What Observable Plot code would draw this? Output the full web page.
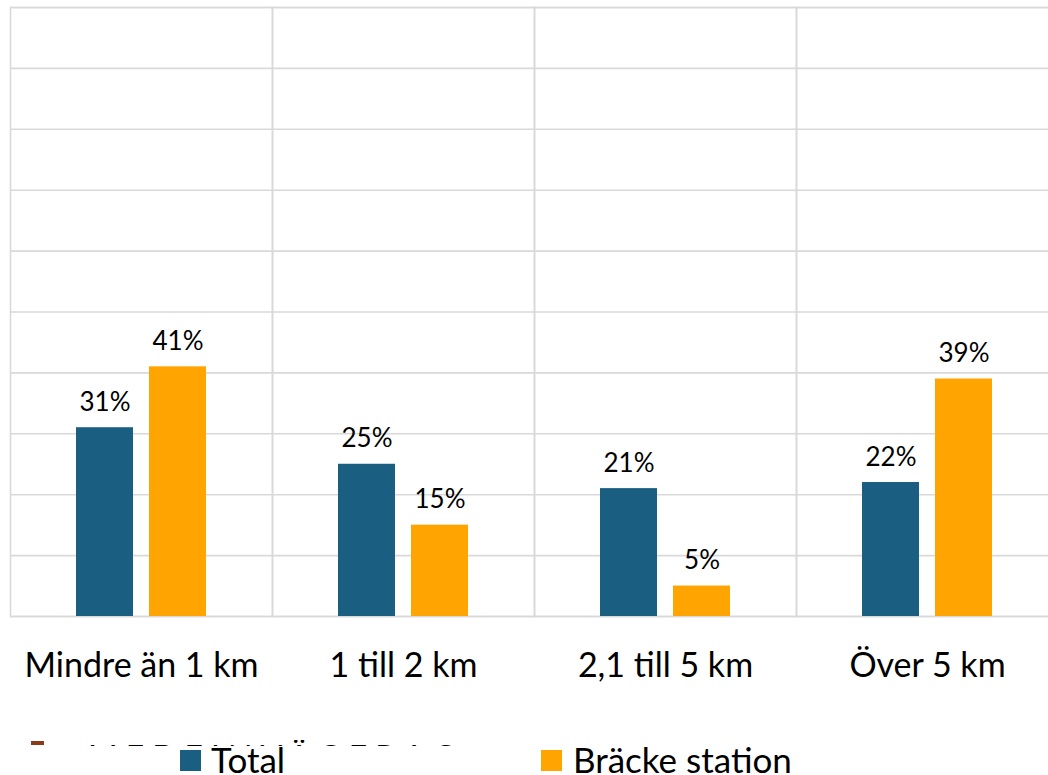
<!DOCTYPE html>
<html><head><meta charset="utf-8">
<script src="https://cdn.jsdelivr.net/npm/d3@7"></script>
<script src="https://cdn.jsdelivr.net/npm/@observablehq/plot@0.6"></script>
<style>
html,body{margin:0;padding:0;background:#fff;overflow:hidden;width:1048px;height:775px;}
#wrap{position:relative;width:1048px;height:775px;overflow:hidden;font-family:"Source Sans Pro",Lato,sans-serif;}
#wrap svg{max-width:none !important;display:block;}
#legend{position:absolute;left:0;top:738px;width:1048px;height:37px;}
.sw{position:absolute;width:21px;height:21px;top:12px;}
.lt{position:absolute;top:1px;font-size:35px;line-height:40px;color:#000;white-space:nowrap;}
#ghost{position:absolute;left:88px;top:740px;height:6px;width:430px;overflow:hidden;}
#ghost span{display:block;font-size:32px;line-height:32px;letter-spacing:8px;color:#000;margin-top:1px;}
#mark{position:absolute;left:31px;top:741px;width:13px;height:4px;background:#8b3a1a;}
</style></head>
<body><div id="wrap"></div>
<script>
const categories = ["Mindre än 1 km", "1 till 2 km", "2,1 till 5 km", "Över 5 km"];
const series = ["Total", "Bräcke station"];
const totalValues = [31, 25, 21, 22];
const brackeValues = [41, 15, 5, 39];
const yTicks = [0,10,20,30,40,50,60,70,80,90,100];
const colors = ["#1a5f82", "#ffa400"];

const data = [];
categories.forEach((c, i) => {
  data.push({cat: c, s: series[0], v: totalValues[i]});
  data.push({cat: c, s: series[1], v: brackeValues[i]});
});

const chart = Plot.plot({
  width: 1068,
  height: 716,
  marginLeft: 9,
  marginRight: 9,
  marginTop: 7,
  marginBottom: 100,
  style: {fontFamily: '"Source Sans Pro", Lato, sans-serif', background: "#fff", overflow: "visible"},
  fx: {domain: categories, padding: 0, label: null},
  x: {domain: series, paddingInner: 0.216, paddingOuter: 0.89, axis: null},
  y: {domain: [0, 100], axis: null},
  color: {domain: series, range: colors},
  marks: [
    Plot.ruleY(yTicks, {stroke: "#d9d9d9", strokeWidth: 1.6}),
    Plot.frame({stroke: "#d9d9d9", strokeWidth: 1.6}),
    Plot.barY(data, {fx: "cat", x: "s", y: "v", fill: "s"}),
    Plot.text(data, {fx: "cat", x: "s", y: "v", text: d => d.v + "%", dy: -17, lineAnchor: "bottom", fontSize: 26, fill: "#000"}),
    Plot.axisFx({anchor: "bottom", tickSize: 0, tickPadding: 36, fontSize: 34, label: null, fill: "#000"})
  ]
});
const wrap = document.getElementById("wrap");
wrap.appendChild(chart);

const ghost = document.createElement("div");
ghost.id = "ghost";
ghost.innerHTML = "<span>MEDEINVÄGERAG AN</span>";
wrap.appendChild(ghost);
const mark = document.createElement("div");
mark.id = "mark";
wrap.appendChild(mark);

const legend = document.createElement("div");
legend.id = "legend";
const pos = [[180, 211], [541, 573]];
series.forEach((s, i) => {
  const sw = document.createElement("div");
  sw.className = "sw"; sw.style.left = pos[i][0] + "px"; sw.style.background = colors[i];
  const t = document.createElement("div");
  t.className = "lt"; t.style.left = pos[i][1] + "px"; t.textContent = s;
  legend.appendChild(sw); legend.appendChild(t);
});
wrap.appendChild(legend);
</script></body></html>
